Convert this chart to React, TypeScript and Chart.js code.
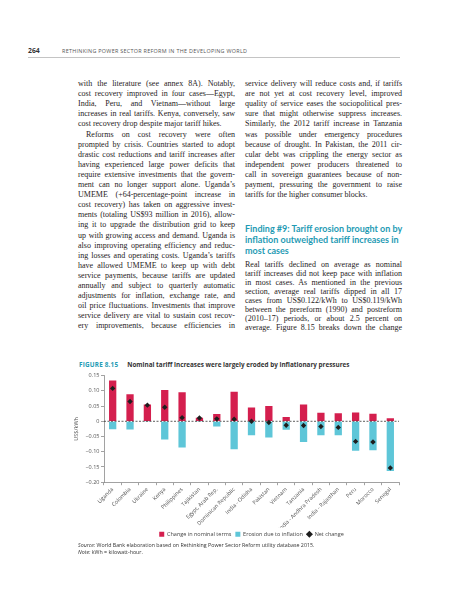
import React, { useEffect, useRef } from "react";
import { Chart, registerables } from "chart.js";

Chart.register(...registerables);

// ---------- chart data ----------
const categories = [
  "Uganda",
  "Colombia",
  "Ukraine",
  "Kenya",
  "Philippines",
  "Tajikistan",
  "Egypt, Arab Rep.",
  "Dominican Republic",
  "India - Odisha",
  "Pakistan",
  "Vietnam",
  "Tanzania",
  "India - Andhra Pradesh",
  "India - Rajasthan",
  "Peru",
  "Morocco",
  "Senegal",
];
const nominalChange = [0.134, 0.089, 0.055, 0.103, 0.095, 0.012, 0.024, 0.097, 0.045, 0.05, 0.014, 0.055, 0.028, 0.026, 0.029, 0.025, 0.01];
const inflationErosion = [-0.026, -0.027, -0.002, -0.06, -0.086, -0.002, -0.017, -0.092, -0.046, -0.053, -0.028, -0.068, -0.046, -0.046, -0.097, -0.095, -0.163];
const netChange = [0.108, 0.065, 0.053, 0.046, 0.012, 0.011, 0.008, 0.007, 0.0, -0.004, -0.013, -0.014, -0.017, -0.02, -0.066, -0.068, -0.153];
const yTickValues = [-0.2, -0.15, -0.1, -0.05, 0, 0.05, 0.1, 0.15];
const yTickLabels = ["\u22120.20", "\u22120.15", "\u22120.10", "\u22120.05", "0", "0.05", "0.10", "0.15"];
const seriesNames = ["Change in nominal terms", "Erosion due to inflation", "Net change"];

// ---------- page text ----------
const leftLines: [string, number][] = [
  ["with the literature (see annex 8A). Notably,", 1],
  ["cost recovery improved in four cases\u2014Egypt,", 1],
  ["India, Peru, and Vietnam\u2014without large", 1],
  ["increases in real tariffs. Kenya, conversely, saw", 1],
  ["cost recovery drop despite major tariff hikes.", 0],
  ["Reforms on cost recovery were often", 2],
  ["prompted by crisis. Countries started to adopt", 1],
  ["drastic cost reductions and tariff increases after", 1],
  ["having experienced large power deficits that", 1],
  ["require extensive investments that the govern-", 1],
  ["ment can no longer support alone. Uganda\u2019s", 1],
  ["UMEME (+64-percentage-point increase in", 1],
  ["cost recovery) has taken on aggressive invest-", 1],
  ["ments (totaling US$93 million in 2016), allow-", 1],
  ["ing it to upgrade the distribution grid to keep", 1],
  ["up with growing access and demand. Uganda is", 1],
  ["also improving operating efficiency and reduc-", 1],
  ["ing losses and operating costs. Uganda\u2019s tariffs", 1],
  ["have allowed UMEME to keep up with debt", 1],
  ["service payments, because tariffs are updated", 1],
  ["annually and subject to quarterly automatic", 1],
  ["adjustments for inflation, exchange rate, and", 1],
  ["oil price fluctuations. Investments that improve", 1],
  ["service delivery are vital to sustain cost recov-", 1],
  ["ery improvements, because efficiencies in", 1],
];
const rightLinesTop: [string, number][] = [
  ["service delivery will reduce costs and, if tariffs", 1],
  ["are not yet at cost recovery level, improved", 1],
  ["quality of service eases the sociopolitical pres-", 1],
  ["sure that might otherwise suppress increases.", 1],
  ["Similarly, the 2012 tariff increase in Tanzania", 1],
  ["was possible under emergency procedures", 1],
  ["because of drought. In Pakistan, the 2011 cir-", 1],
  ["cular debt was crippling the energy sector as", 1],
  ["independent power producers threatened to", 1],
  ["call in sovereign guarantees because of non-", 1],
  ["payment, pressuring the government to raise", 1],
  ["tariffs for the higher consumer blocks.", 0],
];
const headingLines = [
  "Finding #9: Tariff erosion brought on by",
  "inflation outweighed tariff increases in",
  "most cases",
];
const rightLinesBottom: [string, number][] = [
  ["Real tariffs declined on average as nominal", 1],
  ["tariff increases did not keep pace with inflation", 1],
  ["in most cases. As mentioned in the previous", 1],
  ["section, average real tariffs dipped in all 17", 1],
  ["cases from US$0.122/kWh to US$0.119/kWh", 1],
  ["between the prereform (1990) and postreform", 1],
  ["(2010\u201317) periods, or about 2.5 percent on", 1],
  ["average. Figure 8.15 breaks down the change", 1],
];

const SANS = "'Open Sans', 'Noto Sans', sans-serif";
const SERIF_NAME = "Liberation Serif";
const SERIF = "'Liberation Serif', 'DejaVu Serif', serif";
const BODY_SIZE = 8;
const TEAL = "#1f9bb4";
const LH = 10.1;
const TOP = 79;
const LEFT_X = 78;
const RIGHT_X = 245;
const COL_W = 157;

let measureCtx: CanvasRenderingContext2D | null = null;
function fitLetterSpacing(text: string, indent: number): number {
  if (typeof document === "undefined") return 0;
  if (!measureCtx) measureCtx = document.createElement("canvas").getContext("2d");
  if (!measureCtx) return 0;
  measureCtx.font = `${BODY_SIZE}px '${SERIF_NAME}'`;
  const w = measureCtx.measureText(text).width + indent;
  const avail = COL_W - 0.6;
  return w > avail ? (avail - w) / text.length : 0;
}

function TextLine({ text, mode, top, left }: { text: string; mode: number; top: number; left: number }) {
  const indent = mode === 2 ? 8 : 0;
  const ls = fitLetterSpacing(text, indent);
  return (
    <div
      style={{
        position: "absolute",
        left,
        top,
        width: COL_W,
        height: LH,
        lineHeight: LH + "px",
        whiteSpace: "nowrap",
        letterSpacing: ls,
        textAlign: mode === 0 ? "left" : "justify",
        textAlignLast: mode === 0 ? "left" : "justify",
        textIndent: indent,
        boxSizing: "border-box",
      } as React.CSSProperties}
    >
      {text}
    </div>
  );
}

const zeroLinePlugin = {
  id: "zeroLine",
  beforeDatasetDraw(chart: any, args: any) {
    if (args.index !== 2) return;
    const { ctx, chartArea, scales } = chart;
    const py = scales.y.getPixelForValue(0);
    ctx.save();
    ctx.strokeStyle = "#333";
    ctx.lineWidth = 0.8;
    ctx.setLineDash([2, 1.5]);
    ctx.beginPath();
    ctx.moveTo(chartArea.left, py);
    ctx.lineTo(chartArea.right, py);
    ctx.stroke();
    ctx.restore();
  },
};

function TariffChart() {
  const ref = useRef<HTMLCanvasElement>(null);
  useEffect(() => {
    if (!ref.current) return;
    const tickFont = { family: SANS, size: 5.5 };
    const chart = new Chart(ref.current, {
      type: "bar",
      data: {
        labels: categories,
        datasets: [
          {
            label: seriesNames[0],
            data: nominalChange,
            backgroundColor: "#d41f4e",
            borderWidth: 0,
            pointStyle: "rect",
            order: 1,
          } as any,
          {
            label: seriesNames[1],
            data: inflationErosion,
            backgroundColor: "#5ec6d8",
            borderWidth: 0,
            pointStyle: "rect",
            order: 2,
          } as any,
          {
            type: "line",
            label: seriesNames[2],
            data: netChange,
            showLine: false,
            pointStyle: "rectRot",
            pointRadius: 2.7,
            pointBackgroundColor: "#1e1e1e",
            pointBorderColor: "#1e1e1e",
            backgroundColor: "#1e1e1e",
            borderColor: "#1e1e1e",
            pointBorderWidth: 0,
            order: 0,
          } as any,
        ],
      },
      options: {
        responsive: true,
        maintainAspectRatio: false,
        animation: false,
        layout: { padding: { top: 9.6, right: 5, left: 17, bottom: 0 } },
        datasets: {
          bar: { grouped: false, categoryPercentage: 1, barPercentage: 0.42 },
        } as any,
        plugins: {
          tooltip: { enabled: false },
          legend: {
            position: "bottom",
            fullSize: false,
            labels: {
              usePointStyle: true,
              boxWidth: 5,
              boxHeight: 5,
              padding: 4,
              color: "#444",
              font: { family: SANS, size: 5.5 },
              sort: (a: any, b: any) => a.datasetIndex - b.datasetIndex,
            },
          },
        },
        scales: {
          x: {
            afterFit: (s: any) => {
              s.height = 45.3;
            },
            ticks: {
              autoSkip: false,
              minRotation: 45,
              maxRotation: 45,
              color: "#555",
              font: tickFont,
              padding: 1,
            },
            grid: {
              drawOnChartArea: false,
              drawTicks: true,
              tickLength: 3,
              color: "#8a8a8a",
              lineWidth: 0.8,
              offset: true,
            },
            border: { color: "#8a8a8a", width: 0.8 },
          },
          y: {
            min: -0.2,
            max: 0.15,
            afterFit: (s: any) => {
              s.width = 31;
            },
            afterBuildTicks: (s: any) => {
              s.ticks = yTickValues.map((v) => ({ value: v }));
            },
            ticks: {
              callback: (_v: any, i: number) => yTickLabels[i],
              color: "#555",
              font: tickFont,
              padding: 1.5,
            },
            grid: {
              drawOnChartArea: false,
              drawTicks: true,
              tickLength: 3,
              color: "#8a8a8a",
              lineWidth: 0.8,
            },
            border: { color: "#8a8a8a", width: 0.8 },
            title: {
              display: true,
              text: "US$/kWh",
              color: "#555",
              font: { family: SANS, size: 5.5 },
              padding: { top: 0, bottom: 0 },
            },
          },
        },
      },
      plugins: [zeroLinePlugin],
    });
    return () => chart.destroy();
  }, []);
  return <canvas ref={ref} />;
}

export default function App() {
  const headTop = 223;
  const bottomStart = 260;
  const bottomStep = 9.0;
  return (
    <div
      style={{
        position: "absolute",
        left: 0,
        top: 0,
        width: 457,
        height: 600,
        background: "#fff",
        overflow: "hidden",
        color: "#1f1c1d",
      }}
    >
      {/* running header */}
      <div style={{ position: "absolute", left: 28, top: 46, fontFamily: SANS, fontWeight: 700, fontSize: 6.8, color: "#333" }}>264</div>
      <div
        style={{
          position: "absolute",
          left: 62,
          top: 46.8,
          fontFamily: SANS,
          fontSize: 5.4,
          letterSpacing: 0.3,
          color: "#555",
          whiteSpace: "nowrap",
        }}
      >
        RETHINKING POWER SECTOR REFORM IN THE DEVELOPING WORLD
      </div>
      <div style={{ position: "absolute", left: 28, top: 56.5, width: 372, height: 1, background: "#c4c4c4" }} />

      {/* body text */}
      <div style={{ fontFamily: SERIF, fontSize: BODY_SIZE }}>
        {leftLines.map(([t, m], i) => (
          <TextLine key={"l" + i} text={t} mode={m} top={TOP + i * LH} left={LEFT_X} />
        ))}
        {rightLinesTop.map(([t, m], i) => (
          <TextLine key={"r" + i} text={t} mode={m} top={TOP + i * LH} left={RIGHT_X} />
        ))}
        {rightLinesBottom.map(([t, m], i) => (
          <TextLine key={"b" + i} text={t} mode={m} top={bottomStart + i * bottomStep} left={RIGHT_X} />
        ))}
      </div>
      {headingLines.map((t, i) => (
        <div
          key={"h" + i}
          style={{
            position: "absolute",
            left: RIGHT_X,
            top: headTop + i * 11,
            height: 11,
            lineHeight: "11px",
            fontFamily: "Lato, " + SANS,
            fontWeight: 700,
            fontSize: 9,
            color: TEAL,
            whiteSpace: "nowrap",
          }}
        >
          {t}
        </div>
      ))}

      {/* figure title */}
      <div style={{ position: "absolute", left: 79, top: 359.5, whiteSpace: "nowrap", fontFamily: SANS, fontWeight: 700, fontSize: 6.35 }}>
        <span style={{ color: TEAL, letterSpacing: 0.2 }}>FIGURE 8.15</span>
        <span style={{ display: "inline-block", width: 9 }} />
        <span style={{ color: "#333" }}>Nominal tariff increases were largely eroded by inflationary pressures</span>
      </div>

      {/* chart */}
      <div style={{ position: "absolute", left: 56, top: 366, width: 348, height: 181 }}>
        <TariffChart />
      </div>

      {/* source & note */}
      <div style={{ position: "absolute", left: 78, top: 541.5, fontFamily: SANS, fontSize: 5.3, color: "#333", whiteSpace: "nowrap", lineHeight: "7px" }}>
        <div>
          <i>Source:</i> World Bank elaboration based on Rethinking Power Sector Reform utility database 2015.
        </div>
        <div>
          <i>Note:</i> kWh = kilowatt-hour.
        </div>
      </div>
    </div>
  );
}
